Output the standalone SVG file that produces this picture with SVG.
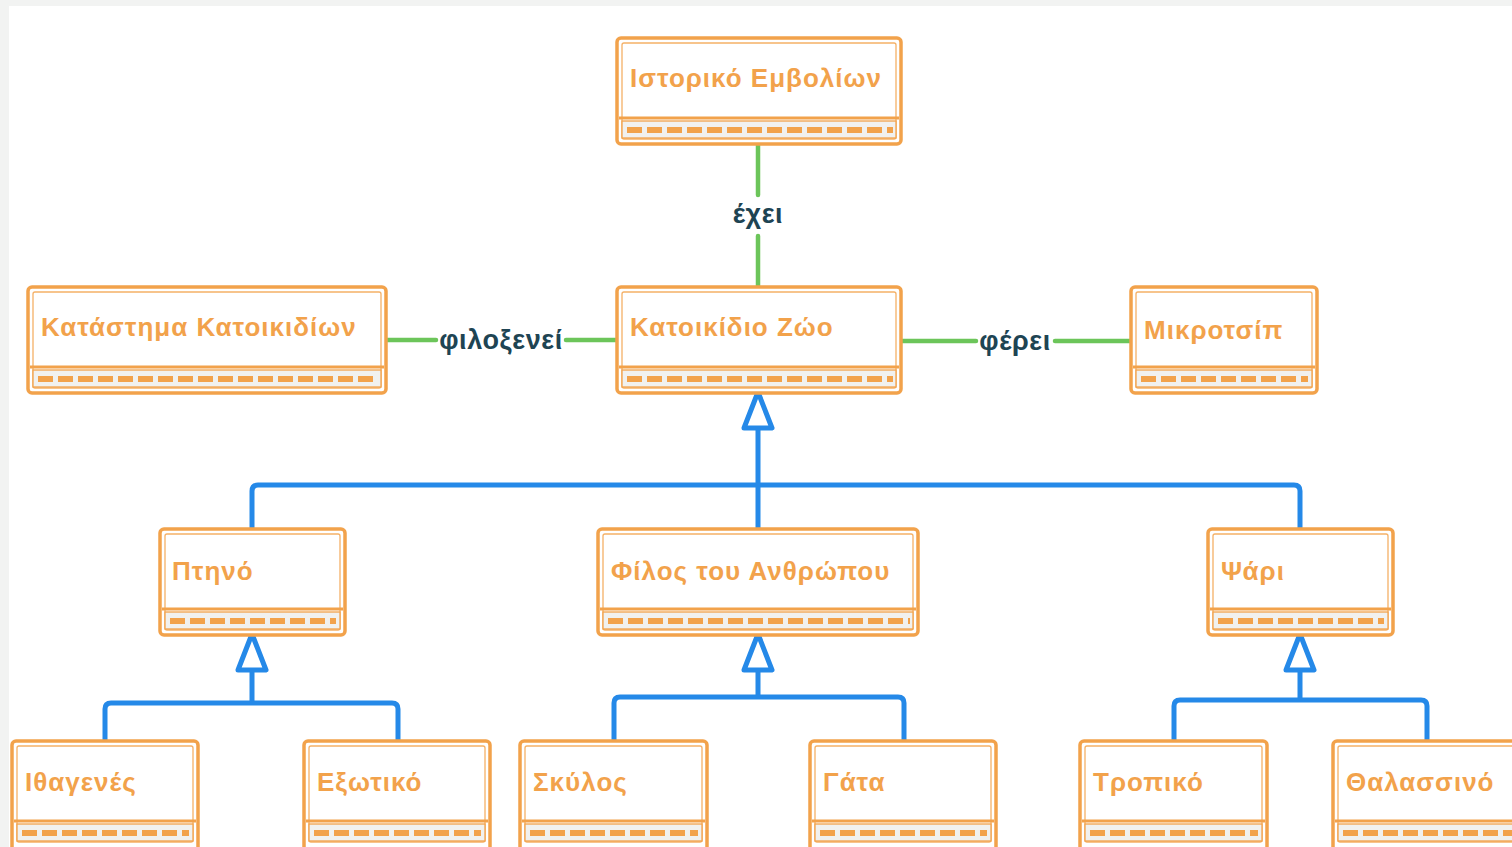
<svg xmlns="http://www.w3.org/2000/svg" width="1512" height="847" viewBox="0 0 1512 847">
<style>
.box{fill:#ffffff;stroke:#f2a24b;stroke-width:3.5;stroke-linejoin:round}
.inner{fill:none;stroke:#f2a24b;stroke-width:1.3;opacity:0.85}
.div{stroke:#f2a24b;stroke-width:3;fill:none}
.band{fill:#f1f1ef;stroke:#f2a24b;stroke-width:1.3}
.dash{stroke:#f2a24b;stroke-width:6;stroke-dasharray:15 5;fill:none}
.t{font-family:"Liberation Sans",Arial,sans-serif;font-weight:bold;font-size:26px;letter-spacing:1px;fill:#f2a24b}
.g{stroke:#6cc55a;stroke-width:4.5;fill:none;stroke-linecap:round}
.b{stroke:#2589e8;stroke-width:5;fill:none;stroke-linecap:round;stroke-linejoin:round}
.ah{stroke:#2589e8;stroke-width:5;fill:#ffffff;stroke-linejoin:round}
.lbl{font-family:"Liberation Sans",Arial,sans-serif;font-weight:bold;font-size:27px;letter-spacing:0.6px;fill:#1e4453;text-anchor:middle}
</style>
<rect x="0" y="0" width="1512" height="847" fill="#f2f3f2"/>
<rect x="9" y="6" width="1503" height="841" fill="#ffffff"/>

<g id="connectors">
  <line class="g" x1="758" y1="144" x2="758" y2="195"/>
  <line class="g" x1="758" y1="236" x2="758" y2="287"/>
  <text class="lbl" x="758" y="223">έχει</text>
  <line class="g" x1="386" y1="340" x2="436" y2="340"/>
  <line class="g" x1="566" y1="340" x2="617" y2="340"/>
  <text class="lbl" x="501" y="349">φιλοξενεί</text>
  <line class="g" x1="901" y1="341" x2="976" y2="341"/>
  <line class="g" x1="1055" y1="341" x2="1131" y2="341"/>
  <text class="lbl" x="1015" y="350">φέρει</text>

  <path class="b" d="M758 428 V485 M252 529 V491 Q252 485 258 485 H1294 Q1300 485 1300 491 V529 M758 485 V529"/>
  <polygon class="ah" points="758,392 772,428 744,428"/>

  <path class="b" d="M252 670 V703 M105 741 V709 Q105 703 111 703 H392 Q398 703 398 709 V741"/>
  <polygon class="ah" points="252,634 266,670 238,670"/>

  <path class="b" d="M758 670 V697 M614 741 V703 Q614 697 620 697 H898 Q904 697 904 703 V741"/>
  <polygon class="ah" points="758,634 772,670 744,670"/>

  <path class="b" d="M1300 670 V700 M1174 741 V706 Q1174 700 1180 700 H1421 Q1427 700 1427 706 V741"/>
  <polygon class="ah" points="1300,634 1314,670 1286,670"/>
</g>

<g id="n-istoriko">
  <rect class="box" x="617" y="38" width="284" height="106" rx="4"/>
  <rect class="inner" x="622" y="43" width="274" height="96" rx="2"/>
  <rect class="band" x="622" y="121" width="274" height="17"/>
  <line class="div" x1="619" y1="118" x2="899" y2="118"/>
  <line class="dash" x1="627" y1="130" x2="893" y2="130"/>
  <text class="t" x="630" y="87">Ιστορικό Εμβολίων</text>
</g>

<g id="n-katastima">
  <rect class="box" x="28" y="287" width="358" height="106" rx="4"/>
  <rect class="inner" x="33" y="292" width="348" height="96" rx="2"/>
  <rect class="band" x="33" y="370" width="348" height="17"/>
  <line class="div" x1="30" y1="367" x2="384" y2="367"/>
  <line class="dash" x1="38" y1="379" x2="378" y2="379"/>
  <text class="t" x="41" y="336">Κατάστημα Κατοικιδίων</text>
</g>

<g id="n-katoikidio">
  <rect class="box" x="617" y="287" width="284" height="106" rx="4"/>
  <rect class="inner" x="622" y="292" width="274" height="96" rx="2"/>
  <rect class="band" x="622" y="370" width="274" height="17"/>
  <line class="div" x1="619" y1="367" x2="899" y2="367"/>
  <line class="dash" x1="627" y1="379" x2="893" y2="379"/>
  <text class="t" x="630" y="336">Κατοικίδιο Ζώο</text>
</g>

<g id="n-mikrotsip">
  <rect class="box" x="1131" y="287" width="186" height="106" rx="4"/>
  <rect class="inner" x="1136" y="292" width="176" height="96" rx="2"/>
  <rect class="band" x="1136" y="370" width="176" height="17"/>
  <line class="div" x1="1133" y1="367" x2="1315" y2="367"/>
  <line class="dash" x1="1141" y1="379" x2="1308" y2="379"/>
  <text class="t" x="1144" y="339">Μικροτσίπ</text>
</g>

<g id="n-ptino">
  <rect class="box" x="160" y="529" width="185" height="106" rx="4"/>
  <rect class="inner" x="165" y="534" width="175" height="96" rx="2"/>
  <rect class="band" x="165" y="612" width="175" height="17"/>
  <line class="div" x1="162" y1="609" x2="343" y2="609"/>
  <line class="dash" x1="170" y1="621" x2="336" y2="621"/>
  <text class="t" x="172" y="580">Πτηνό</text>
</g>

<g id="n-filos">
  <rect class="box" x="598" y="529" width="320" height="106" rx="4"/>
  <rect class="inner" x="603" y="534" width="310" height="96" rx="2"/>
  <rect class="band" x="603" y="612" width="310" height="17"/>
  <line class="div" x1="600" y1="609" x2="916" y2="609"/>
  <line class="dash" x1="608" y1="621" x2="910" y2="621"/>
  <text class="t" x="611" y="580">Φίλος του Ανθρώπου</text>
</g>

<g id="n-psari">
  <rect class="box" x="1208" y="529" width="185" height="106" rx="4"/>
  <rect class="inner" x="1213" y="534" width="175" height="96" rx="2"/>
  <rect class="band" x="1213" y="612" width="175" height="17"/>
  <line class="div" x1="1210" y1="609" x2="1391" y2="609"/>
  <line class="dash" x1="1218" y1="621" x2="1384" y2="621"/>
  <text class="t" x="1221" y="580">Ψάρι</text>
</g>

<g id="n-ithagenes">
  <rect class="box" x="12" y="741" width="186" height="110" rx="4"/>
  <rect class="inner" x="17" y="746" width="176" height="96" rx="2"/>
  <rect class="band" x="17" y="824" width="176" height="17"/>
  <line class="div" x1="14" y1="821" x2="196" y2="821"/>
  <line class="dash" x1="22" y1="833" x2="189" y2="833"/>
  <text class="t" x="25" y="791">Ιθαγενές</text>
</g>

<g id="n-exotiko">
  <rect class="box" x="304" y="741" width="186" height="110" rx="4"/>
  <rect class="inner" x="309" y="746" width="176" height="96" rx="2"/>
  <rect class="band" x="309" y="824" width="176" height="17"/>
  <line class="div" x1="306" y1="821" x2="488" y2="821"/>
  <line class="dash" x1="314" y1="833" x2="481" y2="833"/>
  <text class="t" x="317" y="791">Εξωτικό</text>
</g>

<g id="n-skylos">
  <rect class="box" x="520" y="741" width="187" height="110" rx="4"/>
  <rect class="inner" x="525" y="746" width="177" height="96" rx="2"/>
  <rect class="band" x="525" y="824" width="177" height="17"/>
  <line class="div" x1="522" y1="821" x2="705" y2="821"/>
  <line class="dash" x1="530" y1="833" x2="698" y2="833"/>
  <text class="t" x="533" y="791">Σκύλος</text>
</g>

<g id="n-gata">
  <rect class="box" x="810" y="741" width="186" height="110" rx="4"/>
  <rect class="inner" x="815" y="746" width="176" height="96" rx="2"/>
  <rect class="band" x="815" y="824" width="176" height="17"/>
  <line class="div" x1="812" y1="821" x2="994" y2="821"/>
  <line class="dash" x1="820" y1="833" x2="987" y2="833"/>
  <text class="t" x="823" y="791">Γάτα</text>
</g>

<g id="n-tropiko">
  <rect class="box" x="1080" y="741" width="187" height="110" rx="4"/>
  <rect class="inner" x="1085" y="746" width="177" height="96" rx="2"/>
  <rect class="band" x="1085" y="824" width="177" height="17"/>
  <line class="div" x1="1082" y1="821" x2="1265" y2="821"/>
  <line class="dash" x1="1090" y1="833" x2="1258" y2="833"/>
  <text class="t" x="1093" y="791">Τροπικό</text>
</g>

<g id="n-thalassino">
  <rect class="box" x="1333" y="741" width="192" height="110" rx="4"/>
  <rect class="inner" x="1338" y="746" width="182" height="96" rx="2"/>
  <rect class="band" x="1338" y="824" width="182" height="17"/>
  <line class="div" x1="1335" y1="821" x2="1523" y2="821"/>
  <line class="dash" x1="1343" y1="833" x2="1515" y2="833"/>
  <text class="t" x="1346" y="791">Θαλασσινό</text>
</g>
</svg>
